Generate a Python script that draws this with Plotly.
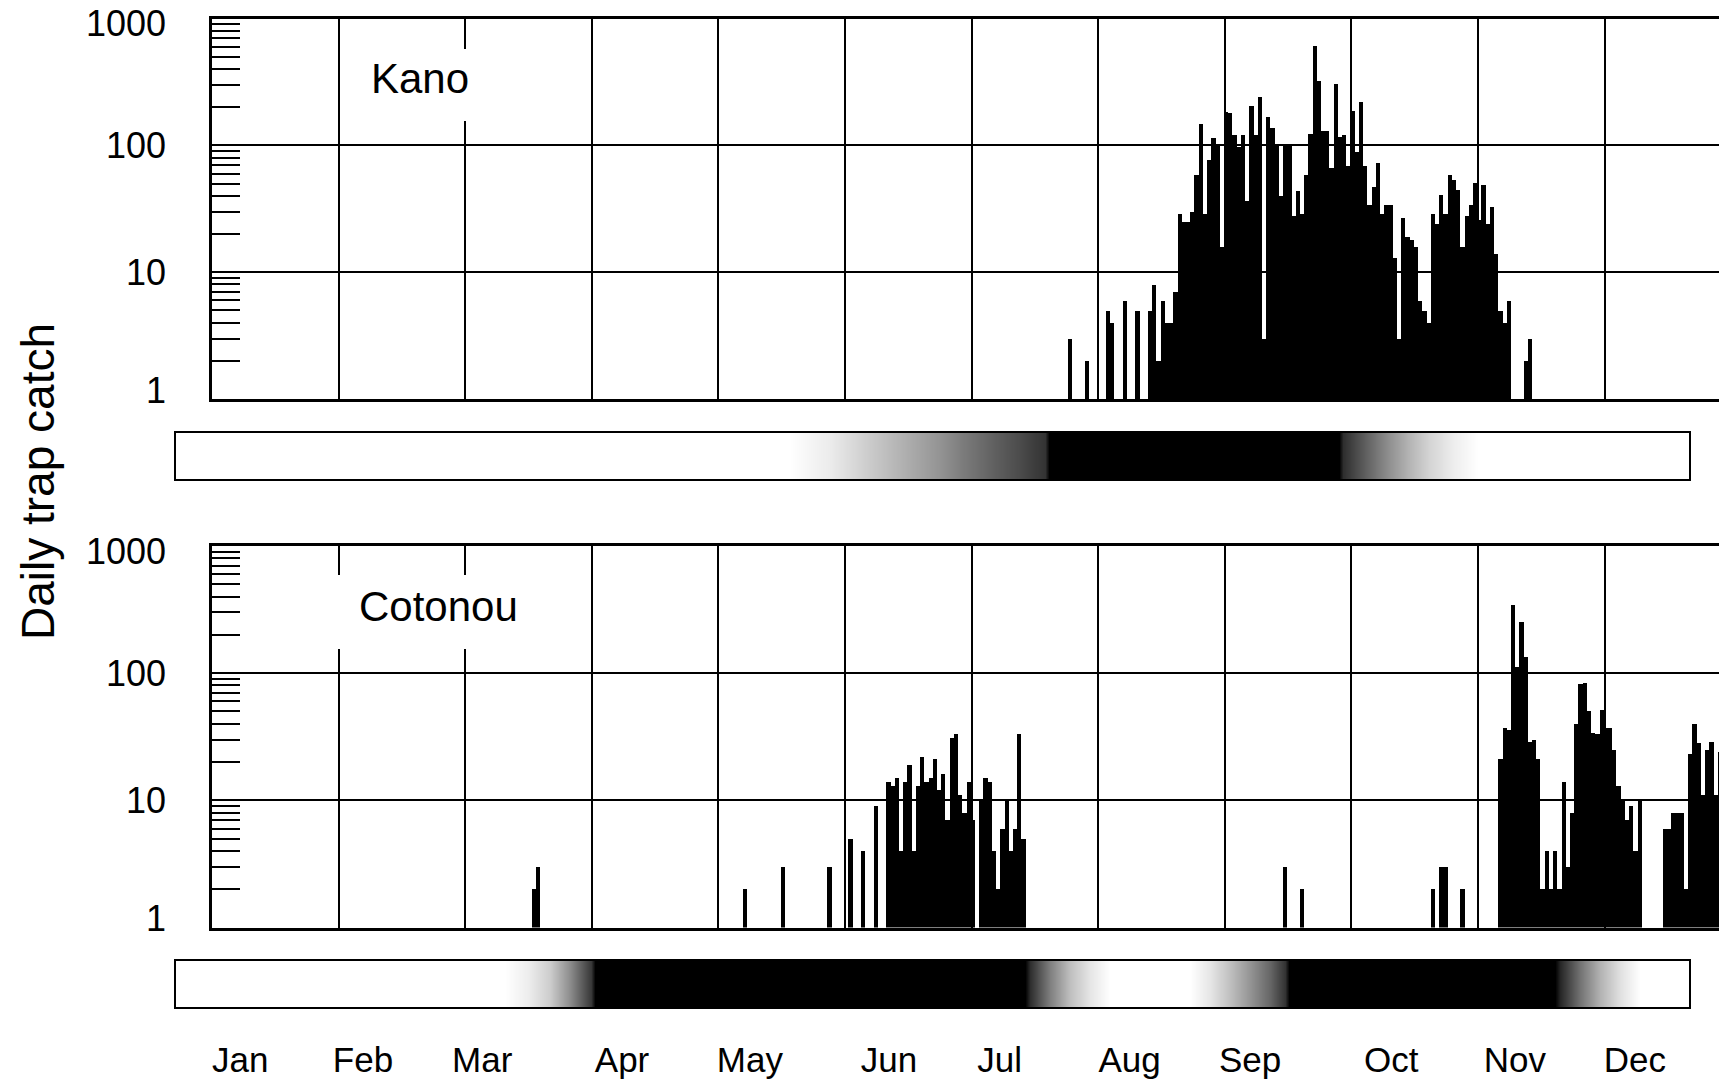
import math
import plotly.graph_objects as go

W, H = 1719, 1083

# ---------------- data ----------------
# Kano daily trap catch (day index along the plot axis)
KANO_DAYS = [203, 207, 212, 213, 216, 219, 222] + list(range(223, 308)) + [311, 312]
KANO_CATCH = [3, 2, 5, 4, 6, 5, 5,
              8, 2, 6, 4, 4, 7, 29, 25, 25, 30,
              59, 148, 29, 77, 115, 102, 16, 185, 183, 122,
              97, 122, 37, 207, 122, 244, 3, 169, 137, 103,
              40, 102, 100, 28, 44, 29, 59, 124, 616, 322,
              130, 130, 67, 307, 118, 122, 69, 189, 89, 220,
              69, 34, 47, 73, 29, 34, 34, 13, 3, 27,
              19, 18, 16, 6, 5, 4, 29, 24, 41, 29,
              59, 54, 45, 16, 28, 34, 51, 26, 49, 24,
              33, 14, 5, 4, 6,
              2, 3]

# Cotonou daily trap catch
COT_DAYS = ([76, 77, 126, 135, 146, 151, 154, 157]
            + list(range(160, 181)) + list(range(182, 193))
            + [254, 258, 289, 291, 292, 296]
            + list(range(305, 339)) + list(range(344, 358)))
COT_CATCH = ([2, 3, 2, 3, 3, 5, 4, 9]
             + [14, 13, 15, 4, 14, 19, 4, 13, 22, 14, 15, 21, 12, 16, 7, 31, 33, 11, 8, 14, 7]
             + [10, 15, 14, 4, 2, 6, 10, 4, 6, 33, 5]
             + [3, 2, 2, 3, 3, 2]
             + [21, 37, 36, 342, 111, 253, 135, 29, 30, 21, 2, 4, 2, 4, 2, 14, 3, 8, 40, 82,
                84, 50, 34, 33, 51, 37, 37, 25, 13, 10, 7, 9, 4, 10]
             + [6, 6, 8, 8, 8, 2, 23, 40, 28, 11, 25, 29, 11, 24])

# Seasonal shading bars (day of year, darkness 0 = white, 1 = black)
KANO_SEASON_DOY = [0, 148, 158, 167, 177, 184, 190, 197, 203, 209.5, 210.5,
                   280.5, 281.5, 287, 292, 297, 302, 308, 314, 365]
KANO_SEASON_LVL = [0, 0, 0.08, 0.2, 0.33, 0.42, 0.52, 0.62, 0.7, 0.8, 1,
                   1, 0.82, 0.62, 0.45, 0.3, 0.17, 0.07, 0, 0]

COT_SEASON_DOY = [0, 79.5, 85, 90.3, 95.2, 100.3, 101.2,
                  204.8, 206, 210.8, 215.6, 220.4, 225.2,
                  244.5, 249.3, 254.2, 259, 263.8, 267.4, 268.4,
                  332.4, 333.7, 338.5, 343.3, 348.1, 352.9, 365]
COT_SEASON_LVL = [0, 0, 0.07, 0.2, 0.45, 0.78, 1,
                  1, 0.82, 0.5, 0.25, 0.1, 0,
                  0, 0.1, 0.25, 0.42, 0.6, 0.8, 1,
                  1, 0.85, 0.55, 0.3, 0.12, 0, 0]

MONTHS = ["Jan", "Feb", "Mar", "Apr", "May", "Jun", "Jul", "Aug", "Sep", "Oct", "Nov", "Dec"]
MONTH_LABEL_DOY = [15.7, 45.3, 74.0, 107.7, 138.5, 172.0, 198.7, 230.0, 259.0, 293.0, 322.8, 351.7]

Y_TICKS = [1, 10, 100, 1000]
Y_TICK_LABELS = ["1", "10", "100", "1000"]
Y_MINOR = [m * 10 ** e for e in range(3) for m in range(2, 10)]

SITES = ["Kano", "Cotonou"]

# ---------------- figure ----------------
FONT = "Liberation Sans, Arial, sans-serif"


def px_x(p):
    return p / W


def px_y(p):
    return 1 - p / H


fig = go.Figure()

bar_style = dict(marker=dict(color="black", line=dict(width=0)), width=1.0, offset=-0.2,
                 showlegend=False, hoverinfo="skip")
fig.add_trace(go.Bar(x=KANO_DAYS, y=KANO_CATCH, xaxis="x", yaxis="y", **bar_style))
fig.add_trace(go.Bar(x=COT_DAYS, y=COT_CATCH, xaxis="x2", yaxis="y2", **bar_style))

hm_style = dict(zmin=0, zmax=1, colorscale=[[0, "white"], [1, "black"]], showscale=False,
                zsmooth="best", hoverinfo="skip")
fig.add_trace(go.Heatmap(x=KANO_SEASON_DOY, y=[0, 1], z=[KANO_SEASON_LVL, KANO_SEASON_LVL],
                         xaxis="x3", yaxis="y3", **hm_style))
fig.add_trace(go.Heatmap(x=COT_SEASON_DOY, y=[0, 1], z=[COT_SEASON_LVL, COT_SEASON_LVL],
                         xaxis="x4", yaxis="y4", **hm_style))


def plot_x(anchor):
    return dict(range=[0, 357.1], domain=[px_x(212), 1], anchor=anchor, automargin=False,
                showgrid=True, gridcolor="black", gridwidth=2,
                tickmode="linear", tick0=0, dtick=30,
                showticklabels=False, ticks="", zeroline=False,
                showline=True, linecolor="black", linewidth=3, mirror=True)


def plot_y(anchor, top, bottom):
    return dict(type="log", range=[0, 3], domain=[px_y(bottom), px_y(top)], anchor=anchor,
                automargin=False,
                showgrid=True, gridcolor="black", gridwidth=2,
                tickmode="array", tickvals=Y_TICKS, showticklabels=False,
                ticks="inside", ticklen=28, tickwidth=2, tickcolor="black",
                minor=dict(tickmode="array", tickvals=Y_MINOR, ticks="inside", ticklen=28,
                           tickwidth=2, tickcolor="black", showgrid=False),
                showline=True, linecolor="black", linewidth=3, zeroline=False)


def band_x(anchor, labels):
    d = dict(range=[0, 365], domain=[px_x(175), px_x(1690)], anchor=anchor, automargin=False,
             showgrid=False, zeroline=False, showline=False, ticks="")
    if labels:
        d.update(showticklabels=True, tickmode="array", tickvals=MONTH_LABEL_DOY,
                 ticktext=MONTHS, tickfont=dict(family=FONT, size=35, color="black"),
                 ticklabelstandoff=28, ticklabeloverflow="allow")
    else:
        d.update(showticklabels=False)
    return d


def band_y(anchor, top, bottom):
    return dict(range=[-0.5, 1.5], domain=[px_y(bottom), px_y(top)], anchor=anchor,
                automargin=False,
                showgrid=False, zeroline=False, showticklabels=False, ticks="")


fig.update_layout(
    template="none",
    width=W, height=H,
    margin=dict(l=0, r=0, t=0, b=0, pad=0, autoexpand=False),
    paper_bgcolor="white", plot_bgcolor="white",
    bargap=0, bargroupgap=0,
    xaxis=plot_x("y"),
    yaxis=plot_y("x", 18.6, 399),
    xaxis2=plot_x("y2"),
    yaxis2=plot_y("x2", 546, 927.5),
    xaxis3=band_x("y3", False),
    yaxis3=band_y("x3", 432, 480),
    xaxis4=band_x("y4", True),
    yaxis4=band_y("x4", 960, 1008),
    showlegend=False,
)

shapes = []
# frames around the seasonal bands
for top, bottom in [(432, 480), (960, 1008)]:
    shapes.append(dict(type="rect", xref="paper", yref="paper",
                       x0=px_x(175), x1=px_x(1690), y0=px_y(bottom), y1=px_y(top),
                       line=dict(color="black", width=2), fillcolor="rgba(0,0,0,0)", layer="above"))
# white boxes behind site labels
for x0, x1, y0, y1 in [(350, 490, 49, 121), (328, 540, 575, 649)]:
    shapes.append(dict(type="rect", xref="paper", yref="paper",
                       x0=px_x(x0), x1=px_x(x1), y0=px_y(y1), y1=px_y(y0),
                       line=dict(width=0), fillcolor="white", layer="above"))
fig.update_layout(shapes=shapes)

annotations = [
    dict(text=SITES[0], x=px_x(420), y=px_y(79), xref="paper", yref="paper",
         showarrow=False, font=dict(family=FONT, size=42, color="black"),
         xanchor="center", yanchor="middle"),
    dict(text=SITES[1], x=px_x(438.5), y=px_y(606), xref="paper", yref="paper",
         showarrow=False, font=dict(family=FONT, size=42, color="black"),
         xanchor="center", yanchor="middle"),
    dict(text="Daily trap catch", x=px_x(38), y=px_y(482), xref="paper", yref="paper",
         showarrow=False, textangle=-90, font=dict(family=FONT, size=46, color="black"),
         xanchor="center", yanchor="middle"),
]

# y tick labels (placed on the log axes, nudged inward at the ends like the original)
label_shift = {1: 9, 1000: -5}
for yref in ["y", "y2"]:
    for val, lab in zip(Y_TICKS, Y_TICK_LABELS):
        annotations.append(dict(text=lab, x=px_x(168), y=math.log10(val), xref="paper", yref=yref,
                                showarrow=False, xanchor="right", yanchor="middle",
                                yshift=label_shift.get(val, 0),
                                font=dict(family=FONT, size=36, color="black")))
fig.update_layout(annotations=annotations)

fig.write_html("out.html")
